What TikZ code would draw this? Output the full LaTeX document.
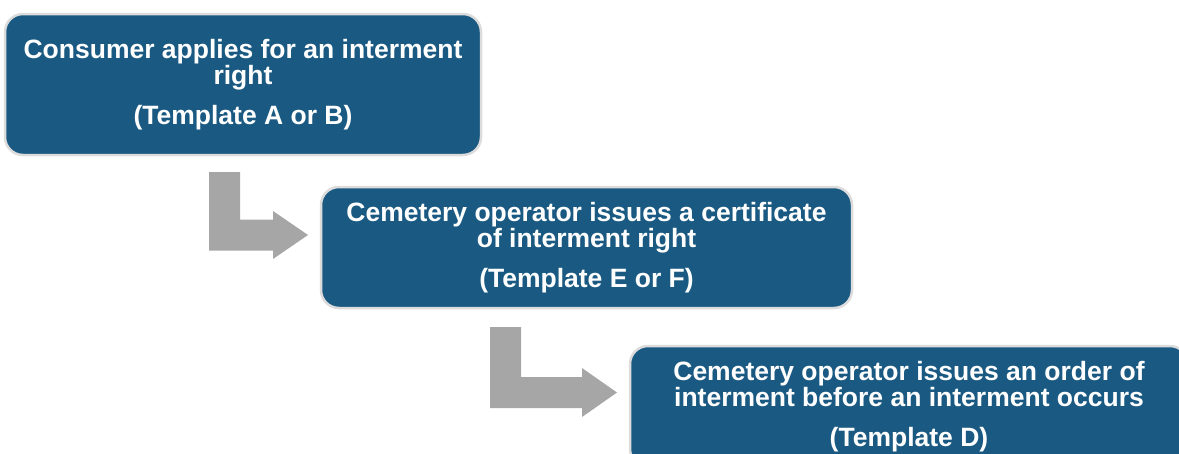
\documentclass[tikz,border=0pt]{standalone}
\usepackage{fontspec}
\setmainfont{Liberation Sans}
\definecolor{boxblue}{RGB}{26,90,130}
\definecolor{boxrim}{RGB}{220,220,220}
\definecolor{arrowgrey}{RGB}{166,166,166}
\tikzset{
  stepbox/.style={rectangle, rounded corners=18pt, fill=boxblue, draw=boxrim,
    line width=2.5pt, inner sep=0pt, align=center, text=white,
    font=\fontsize{26.5}{26}\selectfont\bfseries},
  bentarrow/.style={fill=arrowgrey, draw=none}
}
\begin{document}
\begin{tikzpicture}[x=1pt, y=-1pt]
  \clip (0,0) rectangle (1179,453);
  \fill[white] (0,0) rectangle (1179,453);

  % process steps
  \node[stepbox, minimum width=476pt, minimum height=141pt] (apply) at (243,84.5)
    {Consumer applies for an interment\\right\\[14pt](Template A or B)};
  \node[stepbox, minimum width=531pt, minimum height=121pt] (certificate) at (586.5,247.5)
    {Cemetery operator issues a certificate\\of interment right\\[14pt](Template E or F)};
  \node[stepbox, minimum width=558pt, minimum height=121pt] (order) at (909,406.5)
    {Cemetery operator issues an order of\\interment before an interment occurs\\[14pt](Template D)};

  % bent arrows leading from one step down to the next
  \fill[bentarrow] (209,172) -- (240,172) -- (240,219.5) -- (273,219.5) -- (273,211)
    -- (308,235) -- (273,259) -- (273,250.5) -- (209,250.5) -- cycle;
  \fill[bentarrow] (490,327) -- (521,327) -- (521,377) -- (582,377) -- (582,368)
    -- (617,392.5) -- (582,417) -- (582,408) -- (490,408) -- cycle;
\end{tikzpicture}
\end{document}
